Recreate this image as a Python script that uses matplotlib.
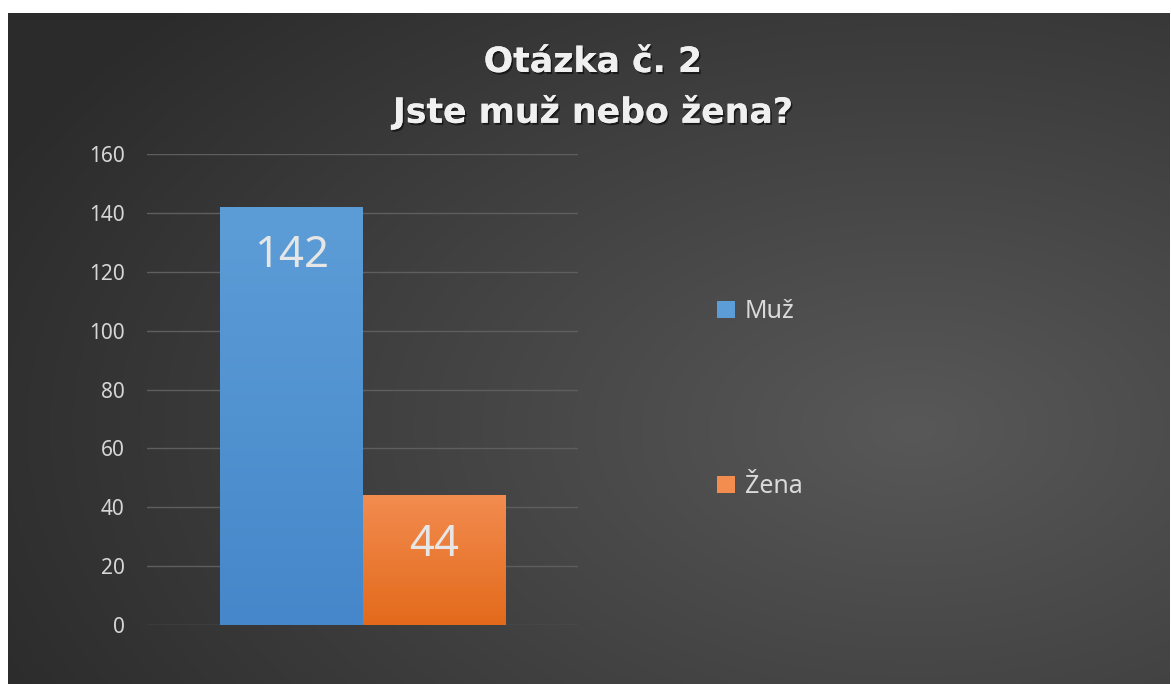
import numpy as np
import matplotlib.pyplot as plt
import matplotlib.patheffects as pe
from matplotlib.patches import Patch

# data
categories = ["Muž", "Žena"]
counts = [142, 44]
title_lines = ["Otázka č. 2", "Jste muž nebo žena?"]
yticks = [0, 20, 40, 60, 80, 100, 120, 140, 160]

colors_top = ["#5d9dd7", "#f28c4f"]
colors_bot = ["#4587ca", "#e36a1b"]
W, H = 1171, 684

fig = plt.figure(figsize=(W / 100, H / 100), dpi=100)
fig.patch.set_facecolor("white")

# dark radial background, with the thin white border of the screenshot
bg = fig.add_axes([8 / W, 0, 1 - 9 / W, 1 - 13 / H])
bg.set_axis_off()
yy, xx = np.mgrid[0:1:300j, 0:1:500j]
r = np.sqrt(((xx - 0.78) / 0.95) ** 2 + ((yy - 0.62) / 1.0) ** 2)
shade = np.clip(0.345 - 0.19 * r, 0.17, 0.36)
bg.imshow(np.dstack([shade] * 3), aspect="auto", extent=[0, 1, 0, 1], origin="upper")

ax = fig.add_axes([147 / W, 1 - 625 / H, 431 / W, (625 - 154) / H])
ax.set_facecolor("none")
x = np.array([-0.5, 0.5])
bars = ax.bar(x, counts, width=1.0, color=colors_bot, zorder=3)

# vertical gradient fill on each bar
grad = np.linspace(0, 1, 256).reshape(-1, 1)
for b, ct, cb in zip(bars, colors_top, colors_bot):
    c1 = np.array(plt.matplotlib.colors.to_rgb(ct))
    c2 = np.array(plt.matplotlib.colors.to_rgb(cb))
    img = c1 + (c2 - c1) * grad[:, :, None]
    bx, by = b.get_x(), b.get_y()
    im = ax.imshow(img, extent=[bx, bx + b.get_width(), by, by + b.get_height()],
                   aspect="auto", origin="upper", zorder=4)
    im.set_clip_path(b)

for b, v in zip(bars, counts):
    ax.annotate(str(v), (b.get_x() + b.get_width() / 2, v), xytext=(0, -35.5),
                textcoords="offset points", ha="center", va="center",
                fontsize=31.5, color="#e6e6e6", family="Noto Sans", zorder=5)

ax.set_xlim(-1.51, 1.51)
ax.set_ylim(0, 160)
ax.set_yticks(yticks)
ax.set_xticks([])
ax.grid(axis="y", color="#5e5e5e", linewidth=1.0, zorder=0)
for s in ax.spines.values():
    s.set_visible(False)
ax.tick_params(axis="y", length=0, pad=16, labelsize=15, labelcolor="#d6d6d6")
for lbl in ax.get_yticklabels():
    lbl.set_family("Noto Sans")

shadow = [pe.withSimplePatchShadow(offset=(1.2, -1.5), shadow_rgbFace="black", alpha=0.55), pe.Normal()]
fig.text(593 / W, 1 - 62 / H, title_lines[0], ha="center", va="center", fontsize=25,
         fontweight="bold", color="#f0f0f0", path_effects=shadow)
fig.text(593 / W, 1 - 112 / H, title_lines[1], ha="center", va="center", fontsize=25,
         fontweight="bold", color="#f0f0f0", path_effects=shadow)

handles = [Patch(facecolor=c, edgecolor="none") for c in colors_top]
leg = fig.legend(handles, categories, loc="center left", bbox_to_anchor=(694 / W, 1 - 399 / H),
                 frameon=False, labelcolor="#dadada", labelspacing=6.0,
                 handlelength=0.72, handleheight=0.7, handletextpad=0.4,
                 prop={"family": "Noto Sans", "size": 18})

fig.savefig("out.png", dpi=100, facecolor=fig.get_facecolor())
